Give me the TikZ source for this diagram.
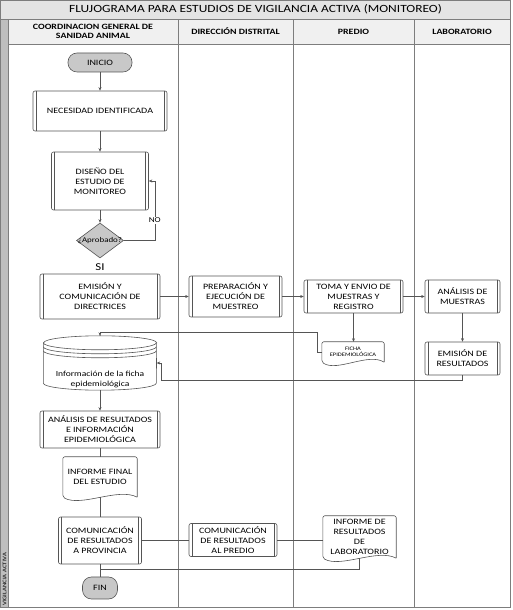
\documentclass[tikz,border=0pt]{standalone}
\usepackage{fontspec}
\setmainfont{Carlito}[FakeStretch=1.22]
\usetikzlibrary{shapes.geometric, arrows.meta, positioning, calc}
\definecolor{linegray}{RGB}{85, 85, 85}
\definecolor{lanegray}{RGB}{125, 125, 125}
\definecolor{termgray}{RGB}{200, 200, 200}
\definecolor{barfill}{RGB}{228, 228, 228}
\definecolor{headfill}{RGB}{240, 240, 240}
\definecolor{stripfill}{RGB}{190, 190, 190}

\begin{document}
\begin{tikzpicture}[x=1pt, y=1pt,
    box/.style={draw=linegray, line width=0.6pt},
    lanehead/.style={font=\bfseries\fontsize{8.1}{9}\selectfont, align=center, inner sep=0pt},
    proc/.style={box, rounded corners=2pt, align=center, inner sep=1pt, font=\fontsize{8.2}{10}\selectfont,
                 path picture={\draw[linegray, line width=0.5pt] ([xshift=3pt]path picture bounding box.north west) -- ([xshift=3pt]path picture bounding box.south west);
                               \draw[linegray, line width=0.5pt] ([xshift=-3pt]path picture bounding box.north east) -- ([xshift=-3pt]path picture bounding box.south east);}},
    term/.style={box, fill=termgray, rounded corners=9pt, font=\fontsize{8.2}{10}\selectfont, inner sep=0pt},
    decision/.style={box, diamond, fill=termgray, minimum width=47pt, minimum height=35pt, inner sep=0pt,
                     font=\fontsize{7.3}{8}\selectfont},
    doc/.style={align=center, inner sep=0pt, font=\fontsize{8.2}{10}\selectfont,
                append after command={\pgfextra{
                    \draw[box, rounded corners=2pt] (\tikzlastnode.south east) -- (\tikzlastnode.north east) -- (\tikzlastnode.north west) -- (\tikzlastnode.south west)
                        .. controls ($(\tikzlastnode.south west)!0.5!(\tikzlastnode.south)+(0,-10pt)$) and ($(\tikzlastnode.south)!0.5!(\tikzlastnode.south east)+(0,10pt)$) .. (\tikzlastnode.south east);}}},
    store/.style={minimum width=113pt, minimum height=54pt, inner sep=0pt,
                  append after command={\pgfextra{
                    \draw[box, fill=white] ([yshift=-7pt]\tikzlastnode.north west) -- ([yshift=7pt]\tikzlastnode.south west)
                        arc[start angle=180, end angle=360, x radius=56.5pt, y radius=7pt]
                        -- ([yshift=-7pt]\tikzlastnode.north east)
                        arc[start angle=0, end angle=180, x radius=56.5pt, y radius=7pt] -- cycle;
                    \draw[box] ([yshift=-7pt]\tikzlastnode.north west) arc[start angle=180, end angle=360, x radius=56.5pt, y radius=7pt];
                    \draw[box] ([yshift=-11pt]\tikzlastnode.north west) arc[start angle=180, end angle=360, x radius=56.5pt, y radius=7pt];
                    \draw[box] ([yshift=-15pt]\tikzlastnode.north west) arc[start angle=180, end angle=360, x radius=56.5pt, y radius=7pt];}}},
    storetext/.style={align=center, inner sep=0pt, font=\fontsize{7.8}{10}\selectfont},
    flow/.style={draw=linegray, line width=0.5pt, -{Stealth[length=3.5pt, width=3pt]}},
    link/.style={draw=linegray, line width=0.5pt}
]
\useasboundingbox (0,0) rectangle (512,610);

% Pool frame, title and lanes
\fill[barfill] (0.5,591) rectangle (510.5,609.5);
\fill[headfill] (8,566) rectangle (510.5,591);
\fill[stripfill] (0.5,2.5) rectangle (8,591);
\draw[lanegray, line width=0.8pt] (0.5,2.5) rectangle (510.5,609.5);
\draw[lanegray] (0.5,591) -- (510.5,591);
\draw[lanegray] (8,566) -- (510.5,566);
\draw[lanegray] (8,2.5) -- (8,591);
\draw[lanegray] (178,2.5) -- (178,591);
\draw[lanegray] (293,2.5) -- (293,591);
\draw[lanegray] (414,2.5) -- (414,591);

\node[font=\fontsize{11}{12}\selectfont] (title) at (255.5,600.5) {FLUJOGRAMA PARA ESTUDIOS DE VIGILANCIA ACTIVA (MONITOREO)};
\node[rotate=90, anchor=west, font=\fontsize{5.5}{6}\selectfont, inner sep=0pt] (pool) at (4.5,4) {VIGILANCIA ACTIVA};

% Headers
\node[lanehead] (h1) at (93,578.5) {COORDINACION GENERAL DE\\SANIDAD ANIMAL};
\node[lanehead] (h2) at (235.5,578.5) {DIRECCIÓN DISTRITAL};
\node[lanehead] (h3) at (353.5,578.5) {PREDIO};
\node[lanehead] (h4) at (462,578.5) {LABORATORIO};

% Lane 1: Coordinacion general
\node[term, minimum width=64pt, minimum height=19pt] (inicio) at (100,547.5) {INICIO};
\node[proc, minimum width=134pt, minimum height=40pt] (necesidad) at (100,499) {NECESIDAD IDENTIFICADA};
\node[proc, minimum width=97pt, minimum height=58pt] (diseno) at (100,429) {DISEÑO DEL\\ESTUDIO DE\\MONITOREO};
\node[decision] (aprobado) at (100,369.5) {\makebox[0pt]{¿Aprobado?}};
\node[font=\fontsize{10.5}{11}\selectfont, inner sep=0pt] (si) at (100,343) {SI};
\node[proc, minimum width=120pt, minimum height=45pt] (emision) at (100,313.5) {EMISIÓN Y\\COMUNICACIÓN DE\\DIRECTRICES};
\node[store] (db) at (100,247) {};
\node[storetext] (dbtext) at (100,231) {Información de la ficha\\epidemiológica};
\node[proc, minimum width=120pt, minimum height=37pt] (analisis) at (100,180.5) {ANÁLISIS DE RESULTADOS\\E INFORMACIÓN\\EPIDEMIOLÓGICA};
\node[doc, minimum width=74pt, minimum height=40pt] (informe) at (100,133) {INFORME FINAL\\DEL ESTUDIO};
\node[proc, minimum width=83pt, minimum height=47pt] (comprov) at (100,69.5) {COMUNICACIÓN\\DE RESULTADOS\\A PROVINCIA};
\node[term, minimum width=35pt, minimum height=22pt] (fin) at (100,22) {FIN};

% Lane 2: Direccion distrital
\node[proc, minimum width=93pt, minimum height=41pt] (prep) at (235.5,313.5) {PREPARACIÓN Y\\EJECUCIÓN DE\\MUESTREO};
\node[proc, minimum width=88pt, minimum height=33pt] (compredio) at (233,70) {COMUNICACIÓN\\DE RESULTADOS\\AL PREDIO};

% Lane 3: Predio
\node[proc, minimum width=99pt, minimum height=33pt] (toma) at (353.5,313.5) {TOMA Y ENVIO DE\\MUESTRAS Y\\REGISTRO};
\node[doc, minimum width=62pt, minimum height=20pt, font=\fontsize{5.3}{6.5}\selectfont] (ficha) at (353,258) {FICHA\\EPIDEMIOLÓGICA};
\node[doc, minimum width=73pt, minimum height=42pt] (informelab) at (359.5,73) {INFORME DE\\RESULTADOS\\DE\\LABORATORIO};

% Lane 4: Laboratorio
\node[proc, minimum width=75pt, minimum height=33pt] (analisism) at (462.5,313.5) {ANÁLISIS DE\\MUESTRAS};
\node[proc, minimum width=75pt, minimum height=33pt] (emisionr) at (462.5,251.5) {EMISIÓN DE\\RESULTADOS};

% Connectors
\draw[flow] (inicio) -- (necesidad);
\draw[flow] (necesidad) -- (diseno);
\draw[flow] (diseno) -- (aprobado);
\draw[flow] (aprobado.east) -- ++(31,0) |- node[pos=0.17, fill=white, inner sep=1pt, font=\fontsize{7.5}{8}\selectfont] (no) {NO} (diseno.east);
\draw[flow] (emision) -- (prep);
\draw[flow] (prep) -- (toma);
\draw[flow] (toma) -- (analisism);
\draw[flow] (toma.south) -- (toma.south |- ficha.north);
\draw[flow] (analisism) -- (emisionr);
\draw[flow] (ficha.west) -- ++(-5,0) |- ($(db.north)+(0,4)$) -- (db.north);
\draw[flow] (emisionr.south) |- ($(db.east)+(5,-17)$) |- (db.east);
\draw[flow] (db) -- (analisis);
\draw[link] (analisis) -- (informe);
\draw[link] (informe.south) -- (comprov.north);
\draw[link] (comprov) -- (fin);
\coordinate (fork) at ($(comprov.south)!0.4!(fin.north)$);
\draw[link] (fork) -| (informelab.south);
\draw[link] (comprov.east) -- (comprov.east -| compredio.west);
\draw[link] (compredio.east) -- (compredio.east -| informelab.west);

\end{tikzpicture}
\end{document}
